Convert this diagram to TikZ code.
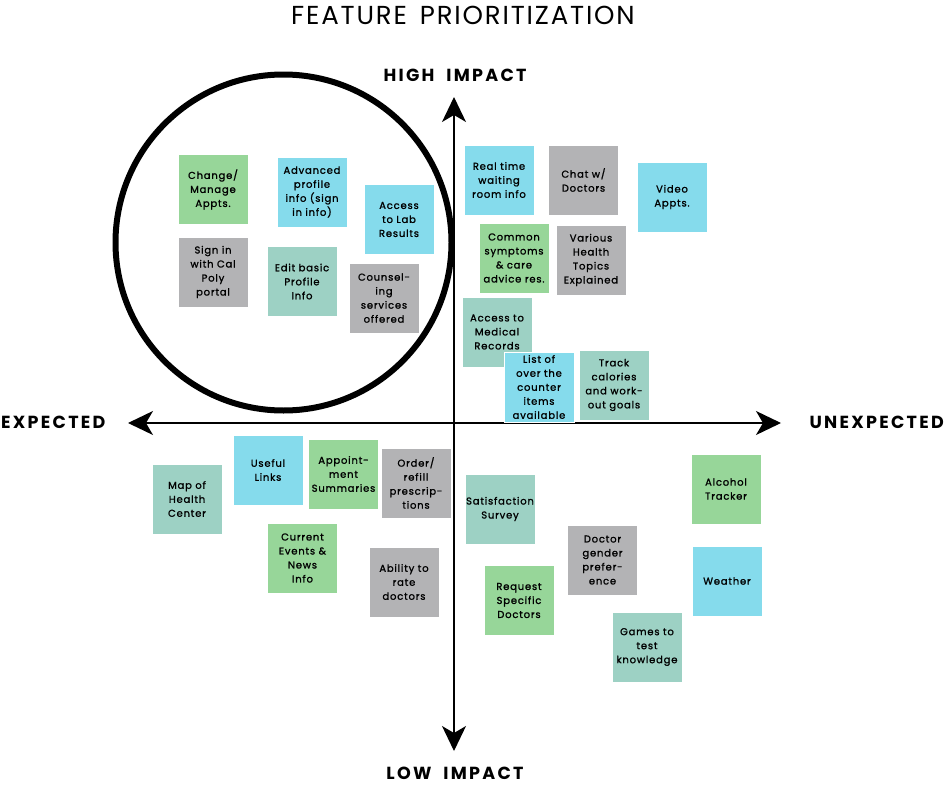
\documentclass[tikz,border=0pt]{standalone}
\usepackage{fontspec}
\setmainfont{Poppins}
\newfontfamily\notefont{Poppins}[LetterSpace=8, FakeBold=1.2]
\newfontfamily\axisfont{Poppins}[LetterSpace=13, WordSpace=2]
\newfontfamily\titlefont{Poppins}[LetterSpace=7, WordSpace=1.5]
\usetikzlibrary{positioning,arrows.meta}
\definecolor{stgreen}{RGB}{151,214,153}
\definecolor{stblue}{RGB}{133,219,236}
\definecolor{stteal}{RGB}{157,209,196}
\definecolor{stgray}{RGB}{179,179,181}
\tikzset{
  sticky/.style={draw=white, line width=0.6pt, minimum width=70pt,
                 minimum height=70pt, inner sep=1pt, align=center,
                 font=\notefont\fontsize{10}{14}\selectfont, text=black},
  greennote/.style={sticky, fill=stgreen},
  bluenote/.style={sticky, fill=stblue},
  tealnote/.style={sticky, fill=stteal},
  graynote/.style={sticky, fill=stgray},
  axislbl/.style={font=\axisfont\bfseries\fontsize{17.5}{20}\selectfont, inner sep=0pt},
  axisline/.style={{Stealth[length=25pt, width=24pt, inset=7pt]}-{Stealth[length=25pt, width=24pt, inset=7pt]},
                   line width=1.2pt, black},
  focus/.style={circle, draw=black, line width=6pt, minimum size=336pt, inner sep=0pt},
}

\begin{document}
\begin{tikzpicture}[x=1pt, y=-1pt]
\useasboundingbox (0,0) rectangle (946,787);

% ---------------------------------------------------------------- title
\node[font=\titlefont\fontsize{26}{30}\selectfont, inner sep=0pt] (title) at (463,15)
  {FEATURE PRIORITIZATION};

% ---------------------------------------------------------------- axes
\coordinate (top) at (454,97);
\coordinate (bottom) at (454,751);
\coordinate (left) at (128,423);
\coordinate (right) at (781,423);
\draw[axisline] (bottom) -- (top);
\draw[axisline] (left) -- (right);

\node[axislbl] (high) at (455,75) {HIGH IMPACT};
\node[axislbl] (low) at (455,773) {LOW IMPACT};
\node[axislbl, anchor=west] (expected) at (1,422) {EXPECTED};
\node[axislbl, anchor=east] (unexpected) at (944,422) {UNEXPECTED};

% ---------------------------------------------------------------- high impact, expected
\node[greennote] (change) at (213,189.5) {Change/\\Manage\\Appts.};
\node[bluenote] (advanced) at (312,192) {Advanced\\profile\\info (sign\\in info)};
\node[bluenote] (labres) at (399,219.5) {Access\\to Lab\\Results};
\node[graynote] (signin) at (213,272) {Sign in\\with Cal\\Poly\\portal};
\node[tealnote] (editinfo) at (302,281.5) {Edit basic\\Profile\\Info};
\node[graynote] (counsel) at (384,298) {Counsel-\\ing\\services\\offered};

% the circled group
\node[focus] (focus) at (283.5,242.5) {};

% ---------------------------------------------------------------- high impact, unexpected
\node[bluenote] (waiting) at (499,180) {Real time\\waiting\\room info};
\node[graynote] (chat) at (583.5,180) {Chat w/\\Doctors};
\node[bluenote] (video) at (672,197) {Video\\Appts.};
\node[greennote] (symptoms) at (514,258) {Common\\symptoms\\\& care\\advice res.};
\node[graynote] (topics) at (591,260) {Various\\Health\\Topics\\Explained};
\node[tealnote] (records) at (497,332) {Access to\\Medical\\Records};
\node[bluenote] (otc) at (539,387) {List of\\over the\\counter\\items\\available};
\node[tealnote] (calories) at (614,385) {Track\\calories\\and work-\\out goals};

% ---------------------------------------------------------------- low impact, expected
\node[tealnote] (map) at (187,499) {Map of\\Health\\Center};
\node[bluenote] (links) at (268,470) {Useful\\Links};
\node[greennote] (summaries) at (343.5,474) {Appoint-\\ment\\Summaries};
\node[graynote] (refill) at (416,483) {Order/\\refill\\prescrip-\\tions};
\node[greennote] (news) at (302.5,558) {Current\\Events \&\\News\\Info};
\node[graynote] (rate) at (404,582) {Ability to\\rate\\doctors};

% ---------------------------------------------------------------- low impact, unexpected
\node[tealnote] (survey) at (500,509) {Satisfaction\\Survey};
\node[greennote] (alcohol) at (726,489) {Alcohol\\Tracker};
\node[graynote] (gender) at (602.5,560) {Doctor\\gender\\prefer-\\ence};
\node[greennote] (request) at (519,600.5) {Request\\Specific\\Doctors};
\node[bluenote] (weather) at (727,581) {Weather};
\node[tealnote] (games) at (647,647) {Games to\\test\\knowledge};

\end{tikzpicture}
\end{document}
